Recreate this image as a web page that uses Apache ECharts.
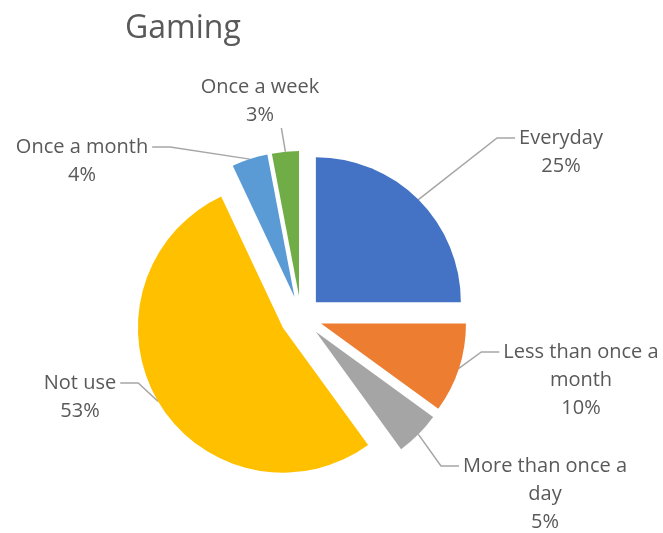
<!DOCTYPE html>
<html>
<head>
<meta charset="utf-8">
<script src="https://cdn.jsdelivr.net/npm/echarts@6/dist/echarts.min.js"></script>
<style>
  html, body { margin: 0; padding: 0; background: #fff; }
  #chart { width: 663px; height: 533px; }
</style>
</head>
<body>
<div id="chart"></div>
<script>
// Share of respondents by how often they play games (percent)
const categories = [
  'Everyday',
  'Less than once a\nmonth',
  'More than once a\nday',
  'Not use',
  'Once a month',
  'Once a week'
];
const shares = [25, 10, 5, 53, 4, 3];
const sliceColors = ['#4472C4', '#ED7D31', '#A5A5A5', '#FFC000', '#5B9BD5', '#70AD47'];

// Where each callout text block is centred
const labelAnchors = [
  [561, 152],
  [581, 380],
  [545, 494],
  [80, 397],
  [82, 161],
  [260, 101]
];

const EXPLODE = 21;
const LINE_H = 28;
const total = shares.reduce((a, b) => a + b, 0);

// How far a slice (and its label) is pushed out from the centre
function sliceShift(i) {
  let before = 0;
  for (let k = 0; k < i; k++) before += shares[k];
  const mid = (before + shares[i] / 2) / total * Math.PI * 2;
  return [EXPLODE * Math.sin(mid), -EXPLODE * Math.cos(mid)];
}

function placeLabel(params) {
  const i = params.dataIndex;
  const shift = sliceShift(i);
  const r = params.labelRect;
  const ax = params.align === 'left' ? r.x : params.align === 'right' ? r.x + r.width : r.x + r.width / 2;
  const ay = params.verticalAlign === 'top' ? r.y : params.verticalAlign === 'bottom' ? r.y + r.height : r.y + r.height / 2;
  // label centre in the slice's own (un-exploded) frame
  const tx = labelAnchors[i][0] - shift[0];
  const ty = labelAnchors[i][1] - shift[1];
  const out = { align: 'center', verticalAlign: 'middle', dx: tx - ax, dy: ty - ay };

  const pts = params.labelLinePoints;
  if (pts && pts.length) {
    const p0 = pts[0];
    const lines = categories[i].split('\n').length + 1;
    const halfW = r.width / 2;
    const halfH = lines * LINE_H / 2;
    let end, bend;
    if (p0[0] > tx - halfW && p0[0] < tx + halfW) {
      // slice sits under/over the text: run the leader straight to its edge
      const yEdge = p0[1] > ty ? ty + halfH - 1 : ty - halfH + 1;
      end = [p0[0] - 4, yEdge];
      bend = end;
    } else {
      const firstY = ty - (lines - 1) * LINE_H / 2;
      const side = p0[0] < tx ? -1 : 1;
      end = [tx + side * (halfW + 4), firstY];
      bend = [end[0] + side * 18, firstY];
    }
    out.labelLinePoints = [[p0[0], p0[1]], bend, end];
  }
  return out;
}

const chart = echarts.init(document.getElementById('chart'), null, { renderer: 'canvas' });

chart.setOption({
  animation: false,
  backgroundColor: '#ffffff',
  title: {
    text: 'Gaming',
    left: 120,
    top: 8,
    textStyle: {
      fontFamily: 'Open Sans',
      fontSize: 32,
      fontWeight: 'normal',
      color: '#595959'
    }
  },
  series: [{
    type: 'pie',
    center: [301, 317],
    radius: [0, 145],
    startAngle: 90,
    clockwise: true,
    selectedMode: 'multiple',
    selectedOffset: EXPLODE,
    avoidLabelOverlap: false,
    emphasis: { disabled: true },
    itemStyle: { borderWidth: 0 },
    label: {
      show: true,
      position: 'outside',
      formatter: p => p.name + '\n' + p.value + '%',
      fontFamily: 'Open Sans',
      fontSize: 20,
      lineHeight: LINE_H,
      color: '#595959'
    },
    labelLine: {
      show: true,
      length: 12,
      length2: 20,
      lineStyle: { color: '#A6A6A6', width: 1.5 }
    },
    labelLayout: placeLabel,
    data: categories.map((name, i) => ({
      name: name,
      value: shares[i],
      selected: true,
      itemStyle: { color: sliceColors[i] }
    }))
  }]
});
</script>
</body>
</html>
